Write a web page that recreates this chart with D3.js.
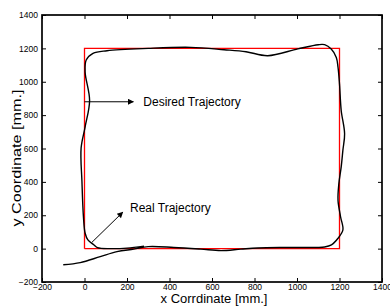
<!DOCTYPE html>
<html lang="en">
<head>
    <meta charset="UTF-8">
    <title>Trajectory</title>
    <script src="https://d3js.org/d3.v7.min.js"></script>
    <style>
        body { margin: 0; background: #fff; }
        text { font-family: "Liberation Sans", Arial, sans-serif; fill: #000; }
        .tick text { font-size: 8.5px; }
        .tick line { stroke: #000; stroke-width: 1px; }
        .domain { display: none; }
        .frame { fill: none; stroke: #000; stroke-width: 1.7px; }
        .desired { fill: none; stroke: #ff0000; stroke-width: 1.3px; }
        .real { fill: none; stroke: #000; stroke-width: 1.4px; }
        .note { font-size: 12px; }
        .axis-title { font-size: 13px; }
        .pointer { stroke: #000; stroke-width: 1px; }
    </style>
</head>
<body>
<div id="chart"></div>
<script>
    // desired trajectory (square)
    var desiredX = [0, 1200, 1200, 0, 0];
    var desiredY = [0, 0, 1200, 1200, 0];

    // real trajectory
    var realX = [-100, -20, 74, 153, 232, 300, 420, 547, 642, 736, 815, 973, 1130, 1162, 1193, 1216, 1205, 1193, 1197, 1208, 1216, 1224, 1208, 1200, 1193, 1185, 1161, 1130, 1100, 1004, 862, 760, 657, 500, 300, 106, 40, 8, 3, 24, 3, -16, -12, -5, 3, 16, 45, 61, 120, 200, 280];
    var realY = [-97, -84, -48, -18, -3, 12, 7, -3, -12, -3, 4, 7, 10, 22, 62, 112, 191, 290, 390, 490, 590, 689, 828, 987, 1087, 1146, 1196, 1222, 1222, 1197, 1156, 1180, 1192, 1206, 1200, 1186, 1170, 1130, 1057, 888, 730, 602, 402, 191, 92, 52, 22, 6, 0, 3, 15];

    var xTicks = [-200, 0, 200, 400, 600, 800, 1000, 1200, 1400];
    var yTicks = [-200, 0, 200, 400, 600, 800, 1000, 1200, 1400];

    var w = 390, h = 308;
    var mLeft = 42, mRight = 382, mTop = 15, mBottom = 282;

    var xScale = d3.scaleLinear().domain([-200, 1400]).range([mLeft, mRight]);
    var yScale = d3.scaleLinear().domain([-200, 1400]).range([mBottom, mTop]);
    var fmt = d3.format("d");

    var svg = d3.select("#chart").append("svg")
        .attr("width", w)
        .attr("height", h);

    svg.append("defs").append("marker")
        .attr("id", "head")
        .attr("viewBox", "0 0 10 10")
        .attr("refX", 9)
        .attr("refY", 5)
        .attr("markerWidth", 9)
        .attr("markerHeight", 6)
        .attr("markerUnits", "userSpaceOnUse")
        .attr("orient", "auto")
        .append("path")
        .attr("d", "M0,0 L10,5 L0,10 Z")
        .attr("fill", "#000");

    // axes with inward ticks
    svg.append("g")
        .attr("transform", "translate(0," + mBottom + ")")
        .call(d3.axisBottom(xScale).tickValues(xTicks).tickFormat(fmt).tickSize(-4).tickSizeOuter(0).tickPadding(2));
    svg.append("g")
        .attr("transform", "translate(0," + mTop + ")")
        .call(d3.axisTop(xScale).tickValues(xTicks).tickSize(-4).tickSizeOuter(0).tickFormat(""));
    svg.append("g")
        .attr("transform", "translate(" + mLeft + ",0)")
        .call(d3.axisLeft(yScale).tickValues(yTicks).tickFormat(fmt).tickSize(-4).tickSizeOuter(0).tickPadding(4));
    svg.append("g")
        .attr("transform", "translate(" + mRight + ",0)")
        .call(d3.axisRight(yScale).tickValues(yTicks).tickSize(-4).tickSizeOuter(0).tickFormat(""));

    svg.append("rect")
        .attr("class", "frame")
        .attr("x", mLeft)
        .attr("y", mTop)
        .attr("width", mRight - mLeft)
        .attr("height", mBottom - mTop);

    var desired = desiredX.map(function(d, i) { return [d, desiredY[i]]; });
    var real = realX.map(function(d, i) { return [d, realY[i]]; });

    var line = d3.line()
        .x(function(d) { return xScale(d[0]); })
        .y(function(d) { return yScale(d[1]); });

    svg.append("path")
        .datum(desired)
        .attr("class", "desired")
        .attr("d", line);

    svg.append("path")
        .datum(real)
        .attr("class", "real")
        .attr("d", line.curve(d3.curveCatmullRom.alpha(0.5)));

    // annotations
    svg.append("line")
        .attr("class", "pointer")
        .attr("x1", xScale(0))
        .attr("y1", yScale(880))
        .attr("x2", xScale(230))
        .attr("y2", yScale(880))
        .attr("marker-end", "url(#head)");
    svg.append("text")
        .attr("class", "note")
        .attr("x", xScale(277))
        .attr("y", yScale(880) + 4)
        .text("Desired Trajectory");

    svg.append("line")
        .attr("class", "pointer")
        .attr("x1", xScale(35))
        .attr("y1", yScale(38))
        .attr("x2", xScale(180))
        .attr("y2", yScale(218))
        .attr("marker-end", "url(#head)");
    svg.append("text")
        .attr("class", "note")
        .attr("x", xScale(214))
        .attr("y", yScale(242) + 4)
        .text("Real Trajectory");

    svg.append("text")
        .attr("class", "axis-title")
        .attr("x", 214)
        .attr("y", 303)
        .attr("text-anchor", "middle")
        .text("x Corrdinate [mm.]");
    svg.append("text")
        .attr("class", "axis-title")
        .attr("transform", "translate(21,158) rotate(-90) scale(1.25,1)")
        .attr("text-anchor", "middle")
        .text("y Coordinate [mm.]");
</script>
</body>
</html>
